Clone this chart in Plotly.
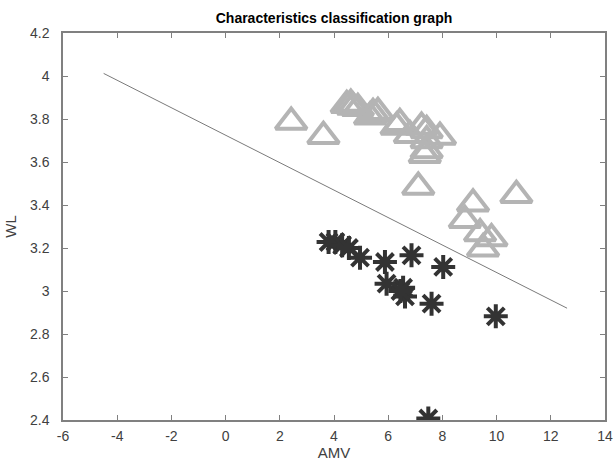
import plotly.graph_objects as go

# Class 1 (triangles)
tri_x = [2.42, 3.61, 4.47, 4.62, 4.70, 4.88, 5.44, 5.62, 5.33, 6.43, 6.31, 6.80,
         7.23, 7.42, 7.91, 7.42, 7.35, 7.42, 7.11, 9.13, 10.73, 8.83, 9.39, 9.81, 9.50]
tri_y = [3.786, 3.72, 3.864, 3.87, 3.856, 3.85, 3.827, 3.831, 3.81, 3.78, 3.763, 3.724,
         3.763, 3.747, 3.716, 3.70, 3.631, 3.654, 3.484, 3.406, 3.445, 3.329, 3.267, 3.244, 3.197]

# Class 2 (asterisks)
ast_x = [3.80, 4.05, 4.30, 4.55, 4.96, 5.88, 6.86, 8.03, 5.94, 6.55, 6.62, 6.45,
         7.60, 9.97, 7.48]
ast_y = [3.228, 3.228, 3.213, 3.200, 3.155, 3.135, 3.166, 3.112, 3.034, 3.015, 2.975, 3.0,
         2.941, 2.882, 2.407]

# Separating line endpoints
line_x = [-4.5, 12.6]
line_y = [4.012, 2.92]

x_ticks = [-6, -4, -2, 0, 2, 4, 6, 8, 10, 12, 14]
x_tick_text = ["-6", "-4", "-2", "0", "2", "4", "6", "8", "10", "12", "14"]
y_ticks = [2.4, 2.6, 2.8, 3.0, 3.2, 3.4, 3.6, 3.8, 4.0, 4.2]
y_tick_text = ["2.4", "2.6", "2.8", "3", "3.2", "3.4", "3.6", "3.8", "4", "4.2"]

FONT = "Liberation Sans, Arial"

fig = go.Figure()
fig.add_trace(go.Scatter(x=line_x, y=line_y, mode="lines",
                         line=dict(color="#7a7a7a", width=1), showlegend=False))
fig.add_trace(go.Scatter(x=tri_x, y=tri_y, mode="markers",
                         marker=dict(symbol="triangle-up-open", size=27, color="#b4b4b4",
                                     line=dict(color="#b4b4b4", width=4)),
                         showlegend=False))
fig.add_trace(go.Scatter(x=ast_x, y=ast_y, mode="markers",
                         marker=dict(symbol="asterisk-open", size=20, color="#333333",
                                     line=dict(color="#333333", width=4)),
                         showlegend=False))

axis_common = dict(showgrid=False, zeroline=False, showline=True, linecolor="#808080",
                   linewidth=1.5, mirror="ticks", ticks="inside", ticklen=5,
                   tickcolor="#808080", tickwidth=1, automargin=False,
                   tickfont=dict(family=FONT, size=14, color="#404040"))

fig.update_xaxes(range=[-6, 14], tickvals=x_ticks, ticktext=x_tick_text,
                 ticklabelstandoff=2,
                 title=dict(text="AMV", font=dict(family=FONT, size=15, color="#404040"),
                            standoff=2),
                 **axis_common)
fig.update_yaxes(range=[2.4, 4.2], tickvals=y_ticks, ticktext=y_tick_text,
                 ticklabelstandoff=9,
                 title=dict(text="WL", font=dict(family=FONT, size=15, color="#404040"),
                            standoff=10),
                 **axis_common)

fig.update_layout(
    width=613, height=466,
    margin=dict(l=63, r=8, t=33, b=46),
    plot_bgcolor="white", paper_bgcolor="white",
    title=dict(text="<b>Characteristics classification graph</b>", x=0.5, xref="paper",
               y=0.962, yref="container", yanchor="middle",
               font=dict(family=FONT, size=14, color="#000000")),
)

fig.write_html("out.html", config={"displayModeBar": False},
               post_script="document.body.style.margin='0';")
